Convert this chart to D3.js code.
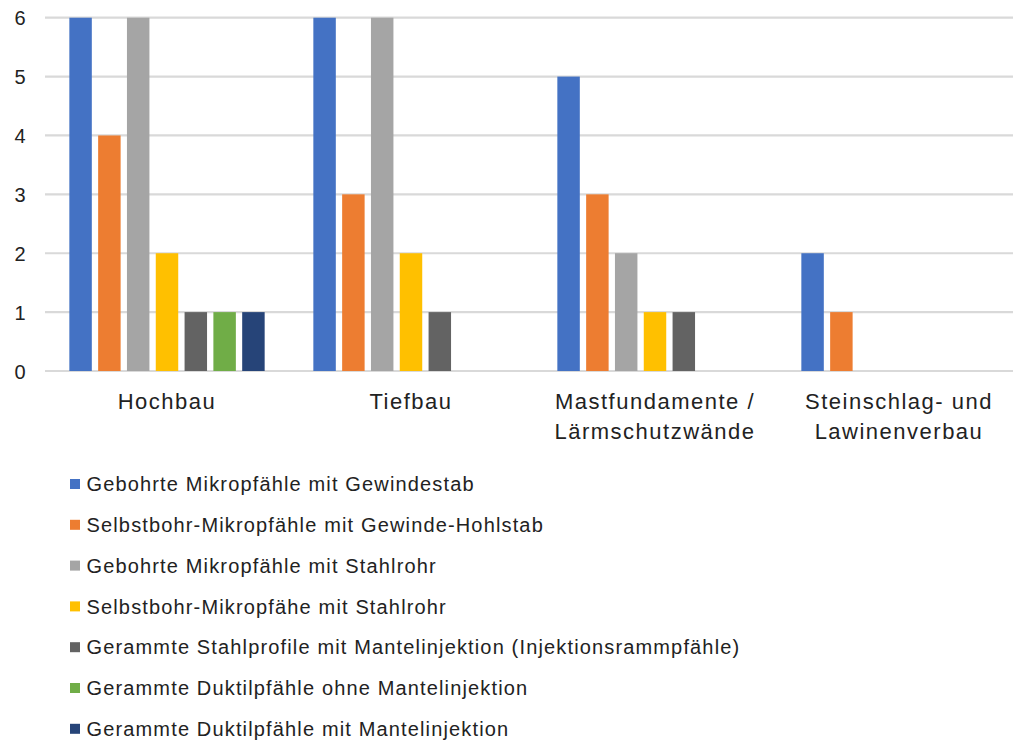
<!DOCTYPE html>
<html>
<head>
<meta charset="utf-8">
<script src="https://cdn.jsdelivr.net/npm/d3@7"></script>
<style>
  html, body { margin: 0; padding: 0; background: #fff; }
  svg { display: block; font-family: "Liberation Sans", Arial, sans-serif; }
</style>
</head>
<body>
<svg id="chart" width="1013" height="743"></svg>
<script>
// Anwendungsbereiche (x-Achse), zweizeilige Beschriftung als Zeilenlisten
const categories = ["Hochbau", "Tiefbau", "Mastfundamente / Lärmschutzwände", "Steinschlag- und Lawinenverbau"];
const categoryLines = [["Hochbau"], ["Tiefbau"], ["Mastfundamente /", "Lärmschutzwände"], ["Steinschlag- und", "Lawinenverbau"]];

// Pfahltypen (Datenreihen)
const seriesNames = [
  "Gebohrte Mikropfähle mit Gewindestab",
  "Selbstbohr-Mikropfähle mit Gewinde-Hohlstab",
  "Gebohrte Mikropfähle mit Stahlrohr",
  "Selbstbohr-Mikropfähe mit Stahlrohr",
  "Gerammte Stahlprofile mit Mantelinjektion (Injektionsrammpfähle)",
  "Gerammte Duktilpfähle ohne Mantelinjektion",
  "Gerammte Duktilpfähle mit Mantelinjektion"
];
const seriesColors = ["#4472C4", "#ED7D31", "#A5A5A5", "#FFC000", "#636363", "#70AD47", "#264478"];

// Anzahl je Reihe, in Reihenfolge der Kategorien
const gewindestab      = [6, 6, 5, 2];
const gewindeHohlstab  = [4, 3, 3, 1];
const stahlrohr        = [6, 6, 2, 0];
const selbstStahlrohr  = [2, 2, 1, 0];
const stahlprofile     = [1, 1, 1, 0];
const duktilOhne       = [1, 0, 0, 0];
const duktilMit        = [1, 0, 0, 0];
const seriesValues = [gewindestab, gewindeHohlstab, stahlrohr, selbstStahlrohr, stahlprofile, duktilOhne, duktilMit];

const yTicks = [0, 1, 2, 3, 4, 5, 6];

const svg = d3.select("#chart");
const plot = { left: 45, right: 1021, top: 17.7, bottom: 371 };
const textColor = "#222";

const x0 = d3.scaleBand().domain(categories).range([plot.left, plot.right]).padding(0);
const x1 = d3.scaleBand().domain(d3.range(seriesNames.length))
  .range([0, x0.bandwidth()]).paddingInner(0.22).paddingOuter(0.845);
const y = d3.scaleLinear().domain([0, 6]).range([plot.bottom, plot.top]);

// Gitternetzlinien
svg.append("g").selectAll("line").data(yTicks).join("line")
  .attr("x1", plot.left).attr("x2", plot.right)
  .attr("y1", d => y(d)).attr("y2", d => y(d))
  .attr("stroke", "#d9d9d9").attr("stroke-width", 2.2);

// y-Achse
const yAxis = d3.axisLeft(y).tickValues(yTicks).tickSize(0).tickPadding(0).tickFormat(d3.format("d"));
const yg = svg.append("g").attr("transform", "translate(25.5,0)").call(yAxis);
yg.select(".domain").remove();
yg.selectAll("text").attr("font-size", 20).attr("fill", textColor)
  .attr("font-family", "Liberation Sans, Arial, sans-serif").attr("dy", "0.36em");

// Balken
const groups = svg.append("g").selectAll("g").data(categories).join("g")
  .attr("transform", d => `translate(${x0(d)},0)`);
groups.selectAll("rect")
  .data((c, ci) => seriesValues.map((vals, si) => ({ si, v: vals[ci] })).filter(d => d.v > 0))
  .join("rect")
  .attr("x", d => x1(d.si))
  .attr("width", x1.bandwidth())
  .attr("y", d => y(d.v))
  .attr("height", d => y(0) - y(d.v))
  .attr("fill", d => seriesColors[d.si]);

// Kategorienbeschriftung
const labels = svg.append("g").selectAll("text").data(categories).join("text")
  .attr("x", d => x0(d) + x0.bandwidth() / 2)
  .attr("y", 409)
  .attr("text-anchor", "middle")
  .attr("font-size", 22)
  .attr("letter-spacing", 1.5)
  .attr("fill", textColor);
labels.each(function(d, i) {
  const t = d3.select(this);
  const cx = x0(d) + x0.bandwidth() / 2;
  categoryLines[i].forEach((line, li) => {
    t.append("tspan").attr("x", cx).attr("dy", li === 0 ? 0 : 29.5).text(line);
  });
});

// Legende
const legend = svg.append("g").attr("transform", "translate(70,0)");
const rows = legend.selectAll("g").data(seriesNames).join("g")
  .attr("transform", (d, i) => `translate(0,${484 + i * 40.8})`);
rows.append("rect").attr("x", 0).attr("y", -5).attr("width", 10).attr("height", 10)
  .attr("fill", (d, i) => seriesColors[i]);
rows.append("text").attr("x", 16.5).attr("y", 0).attr("dy", "0.36em")
  .attr("font-size", 20).attr("letter-spacing", 1.15).attr("fill", textColor)
  .text(d => d);
</script>
</body>
</html>
